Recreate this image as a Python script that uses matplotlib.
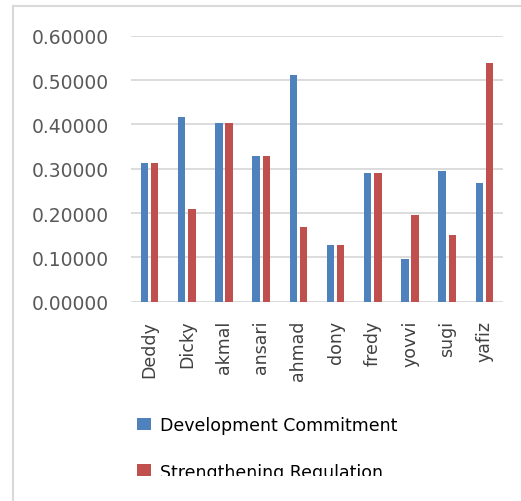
import matplotlib.pyplot as plt
import numpy as np
from matplotlib.patches import Rectangle
from matplotlib.lines import Line2D

names = ['Deddy', 'Dicky', 'akmal', 'ansari', 'ahmad', 'dony', 'fredy', 'yovvi', 'sugi', 'yafiz']
dev_commit = [0.312, 0.4165, 0.403, 0.328, 0.5105, 0.128, 0.2895, 0.097, 0.2955, 0.268]
strength_reg = [0.312, 0.208, 0.403, 0.328, 0.168, 0.128, 0.2895, 0.195, 0.150, 0.539]
series_labels = ['Development Commitment', 'Strengthening Regulation']
yticks = [0.0, 0.1, 0.2, 0.3, 0.4, 0.5, 0.6]

blue = '#4F81BD'
red = '#C0504D'
grid_c = '#D9D9D9'

fig = plt.figure(figsize=(5.21, 5.02), dpi=100)
ax = fig.add_axes([131/521, 1-302.7/502, 372/521, 266/502])

x = np.arange(len(names))
b1 = ax.bar(x - 0.135, dev_commit, width=0.2, color=blue, zorder=3)
b2 = ax.bar(x + 0.135, strength_reg, width=0.2, color=red, zorder=3)

ax.set_xlim(-0.5, len(names) - 0.5)
ax.set_ylim(0, 0.6)
ax.set_yticks(yticks)
ax.set_yticklabels(['%.5f' % v for v in yticks])
ax.yaxis.grid(True, color=grid_c, linewidth=1.3)
ax.set_axisbelow(True)
for s in ax.spines.values():
    s.set_visible(False)
ax.tick_params(axis='y', length=0, pad=16, labelsize=13.5, labelcolor='#595959')
ax.set_xticks(x)
ax.set_xticklabels(names, rotation=90)
ax.tick_params(axis='x', length=0, pad=13, labelsize=12.5, labelcolor='#404040')

fig.legend([b1, b2], series_labels, loc='upper left', bbox_to_anchor=(130/521, 1-410/502),
           frameon=False, fontsize=12.5, handlelength=0.8, handleheight=0.7,
           handletextpad=0.5, labelspacing=1.65, borderaxespad=0)

# cropped bottom of the original picture
fig.patches.append(Rectangle((14/521, 0), 1, 25/502, transform=fig.transFigure,
                             facecolor='white', edgecolor='none', zorder=10))
# outer chart border (only left and top visible)
fig.add_artist(Line2D([12.5/521, 12.5/521], [0, 1-6.7/502], transform=fig.transFigure,
                      color=grid_c, linewidth=1.5, zorder=11))
fig.add_artist(Line2D([12.5/521, 1], [1-6.7/502, 1-6.7/502], transform=fig.transFigure,
                      color=grid_c, linewidth=1.5, zorder=11))

fig.savefig('out.png', dpi=100)
